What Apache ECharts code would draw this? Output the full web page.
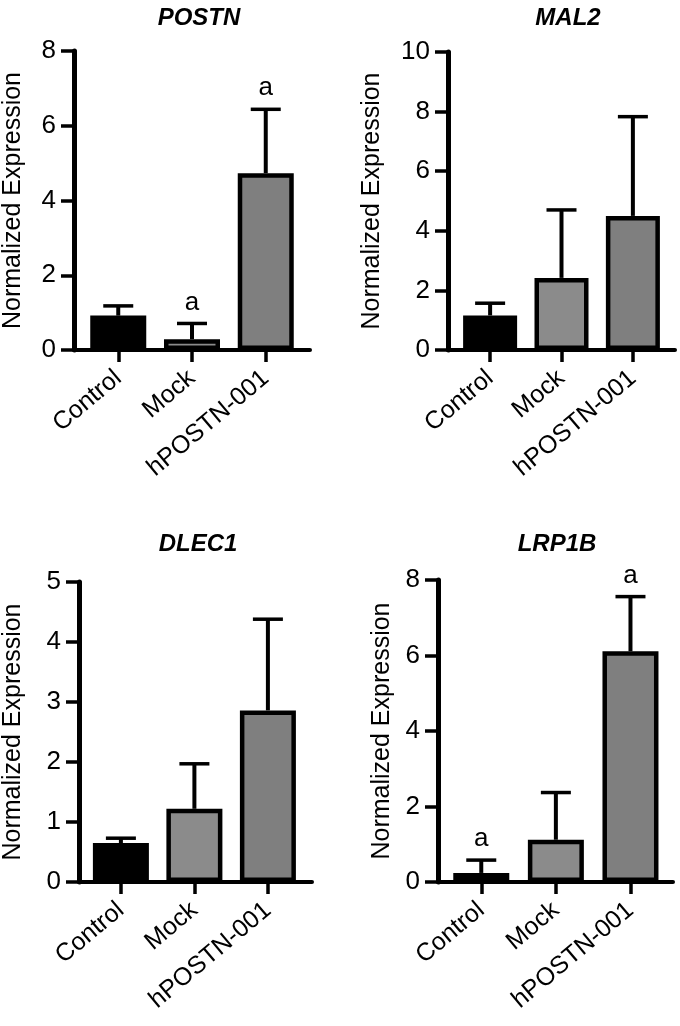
<!DOCTYPE html>
<html>
<head>
<meta charset="utf-8">
<script src="https://cdn.jsdelivr.net/npm/echarts@6/dist/echarts.min.js"></script>
<style>
html,body{margin:0;padding:0;background:#fff;}
#chart{width:680px;height:1026px;}
</style>
</head>
<body>
<div id="chart"></div>
<script>
// ---- data ----
const categories = ['Control', 'Mock', 'hPOSTN-001'];
const genes = ['POSTN', 'MAL2', 'DLEC1', 'LRP1B'];
const postnMean = [0.92, 0.29, 4.73];
const postnSD   = [0.26, 0.42, 1.71];
const postnSig  = ['', 'a', 'a'];
const mal2Mean  = [1.16, 2.42, 4.50];
const mal2SD    = [0.41, 2.28, 3.33];
const mal2Sig   = ['', '', ''];
const dlec1Mean = [0.65, 1.22, 2.86];
const dlec1SD   = [0.08, 0.75, 1.52];
const dlec1Sig  = ['', '', ''];
const lrp1bMean = [0.24, 1.12, 6.11];
const lrp1bSD   = [0.34, 1.25, 1.45];
const lrp1bSig  = ['a', '', 'a'];
const yMax      = [8, 10, 5, 8];
const yStep     = [2, 2, 1, 2];
const yTitle    = 'Normalized Expression';

const means = [postnMean, mal2Mean, dlec1Mean, lrp1bMean];
const sds   = [postnSD, mal2SD, dlec1SD, lrp1bSD];
const sigs  = [postnSig, mal2Sig, dlec1Sig, lrp1bSig];

// ---- style / layout ----
const barColors = ['#000000', '#8b8b8b', '#7f7f7f'];
const FONT = 'Liberation Sans, Arial, Helvetica, sans-serif';
const layout = [
  {left: 73,  top: 51,  width: 237, height: 299, xmin: 0.40, xmax: 3.60, barW: 56, nameGap: 48, titleX: 194, titleY: 1},
  {left: 448, top: 52,  width: 227, height: 298, xmin: 0.41, xmax: 3.59, barW: 54, nameGap: 63, titleX: 563, titleY: 1},
  {left: 76,  top: 582, width: 236, height: 300, xmin: 0.43, xmax: 3.60, barW: 56, nameGap: 53, titleX: 193, titleY: 527},
  {left: 438, top: 580, width: 235, height: 302, xmin: 0.42, xmax: 3.57, barW: 56, nameGap: 43, titleX: 552, titleY: 527}
];

const option = {
  animation: false,
  backgroundColor: '#ffffff',
  title: [], grid: [], xAxis: [], yAxis: [], series: []
};

genes.forEach((g, i) => {
  const L = layout[i];
  option.title.push({
    text: g, left: L.titleX, top: L.titleY, textAlign: 'center',
    textStyle: {fontFamily: FONT, fontStyle: 'italic', fontWeight: 'bold', fontSize: 24, color: '#000'}
  });
  option.grid.push({left: L.left, top: L.top, width: L.width, height: L.height, containLabel: false});
  option.xAxis.push({
    type: 'value', gridIndex: i, min: L.xmin, max: L.xmax,
    splitLine: {show: false},
    axisLine: {show: true, lineStyle: {color: '#000', width: 4}},
    axisTick: {show: true, customValues: [1, 2, 3], length: 12, lineStyle: {color: '#000', width: 3.5}},
    axisLabel: {
      show: true, customValues: [1, 2, 3], rotate: 40, margin: 25,
      formatter: v => categories[Math.round(v) - 1] || '',
      fontFamily: FONT, fontSize: 25, color: '#000'
    }
  });
  option.yAxis.push({
    type: 'value', gridIndex: i, min: 0, max: yMax[i], interval: yStep[i],
    name: yTitle, nameLocation: 'middle', nameGap: L.nameGap, nameRotate: 90,
    nameTextStyle: {fontFamily: FONT, fontSize: 25, color: '#000'},
    splitLine: {show: false},
    axisLine: {show: true, lineStyle: {color: '#000', width: 5}},
    axisTick: {show: true, length: 13, lineStyle: {color: '#000', width: 3.5}},
    axisLabel: {margin: 18, fontFamily: FONT, fontSize: 26, color: '#000'}
  });
  // error bars (drawn beneath bars)
  option.series.push({
    type: 'custom', xAxisIndex: i, yAxisIndex: i, z: 1,
    data: means[i].map((m, k) => [k + 1, m, sds[i][k]]),
    renderItem: (params, api) => {
      const x = api.value(0), m = api.value(1), s = api.value(2);
      const sig = sigs[i][params.dataIndex] || '';
      const p0 = api.coord([x, m]);
      const p1 = api.coord([x, m + s]);
      const hw = 15;
      const children = [
        {type: 'line', shape: {x1: p0[0], y1: p0[1], x2: p1[0], y2: p1[1]}, style: {stroke: '#000', lineWidth: 4}},
        {type: 'line', shape: {x1: p1[0] - hw, y1: p1[1], x2: p1[0] + hw, y2: p1[1]}, style: {stroke: '#000', lineWidth: 3.5}}
      ];
      if (sig) {
        children.push({type: 'text', x: p1[0], y: p1[1] - 8,
          style: {text: sig, fill: '#000', font: '26px ' + FONT, align: 'center', verticalAlign: 'bottom'}});
      }
      return {type: 'group', children: children};
    }
  });
  option.series.push({
    type: 'bar', xAxisIndex: i, yAxisIndex: i, z: 2, barWidth: L.barW,
    data: means[i].map((m, k) => ({value: [k + 1, m], itemStyle: {color: barColors[k]}})),
    itemStyle: {borderColor: '#000', borderWidth: 4.5}
  });
});

const chart = echarts.init(document.getElementById('chart'), null, {renderer: 'canvas'});
chart.setOption(option);
</script>
</body>
</html>
